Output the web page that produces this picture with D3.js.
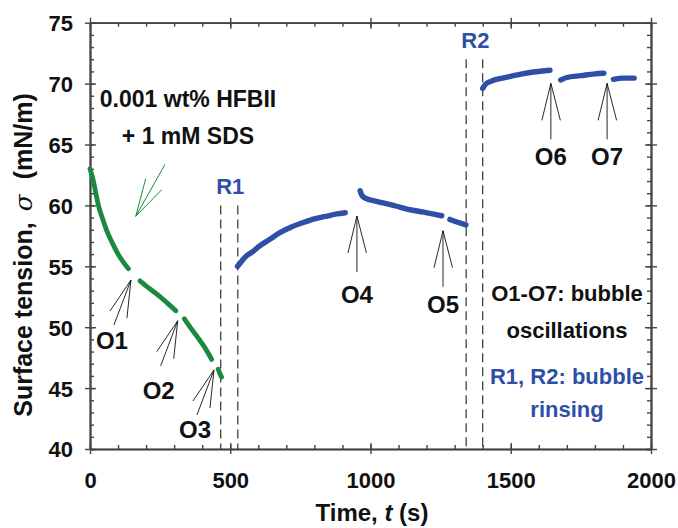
<!DOCTYPE html>
<html>
<head>
<meta charset="utf-8">
<script src="https://cdn.jsdelivr.net/npm/d3@7"></script>
<style>
  html, body { margin: 0; padding: 0; background: #fff; }
  svg { display: block; }
  text { font-family: "Liberation Sans", Arial, sans-serif; font-weight: bold; }
</style>
</head>
<body>
<svg id="chart" width="678" height="528"></svg>
<script>
// Surface tension σ (mN/m) vs time t (s), one array per recorded segment.
// HFBII + SDS adsorption (green), interrupted by bubble oscillations O1–O3.
const hfbSeg1 = [[0,63.0],[10,62.2],[20,61.1],[30,60.0],[45,58.9],[60,57.9],[80,56.9],[100,56.0],[120,55.3],[137,54.8]];
const hfbSeg2 = [[178,53.8],[210,53.2],[245,52.6],[275,52.0],[306,51.35]];
const hfbSeg3 = [[336,50.7],[360,49.9],[386,49.1],[410,48.3],[434,47.35]];
const hfbSeg4 = [[457,46.55],[463,46.2],[469,45.9]];

// After rinsing R1 and R2 (blue).
const rinseSeg1 = [[526,55.0],[540,55.4],[555,55.8],[580,56.2],[600,56.6],[640,57.2],[680,57.8],[720,58.25],[760,58.6],[800,58.9],[840,59.1],[880,59.3],[910,59.4]];
const rinseSeg2 = [[963,61.2],[970,60.8],[985,60.55],[1010,60.4],[1045,60.2],[1090,59.95],[1130,59.7],[1190,59.45],[1254,59.15]];
const rinseSeg3 = [[1283,58.85],[1300,58.7],[1320,58.55],[1340,58.4]];
const rinseSeg4 = [[1400,69.6],[1410,69.95],[1430,70.2],[1460,70.4],[1500,70.6],[1540,70.8],[1580,70.95],[1640,71.1]];
const rinseSeg5 = [[1678,70.3],[1700,70.5],[1750,70.65],[1800,70.8],[1832,70.85]];
const rinseSeg6 = [[1866,70.35],[1900,70.45],[1940,70.45]];

// Rinsing intervals (start, end) in s, with the σ where the dashed markers begin.
const rinseTimes = [[466, 527, 60.0, "R1"], [1341, 1400, 72.0, "R2"]];

// Oscillation events: label, t (s), σ at arrow tip.
const oscFans = [["O1",146,53.87],["O2",312.7,50.53],["O3",442,46.49]];
const oscArrows = [["O4",951.6,59.13],["O5",1258.5,57.92],["O6",1643,70.02],["O7",1843.5,70.02]];

const xTicks = [0, 500, 1000, 1500, 2000];
const yTicks = [40, 45, 50, 55, 60, 65, 70, 75];

const GREEN = "#1b8a3e";
const BLUE = "#2f4fa6";
const AXIS = "#444";

const svg = d3.select("#chart");
const x = d3.scaleLinear().domain([0, 2000]).range([90, 651]);
const y = d3.scaleLinear().domain([40, 75]).range([449, 22.7]);
const [x0, x1] = x.range();
const [y0, y1] = y.range();

// ---- axes (boxed frame, major ticks crossing, minor ticks inward) ----
function styleAxis(g) {
  g.selectAll(".domain").attr("stroke", AXIS).attr("stroke-width", 1.6);
  g.selectAll(".tick line").attr("stroke", AXIS).attr("stroke-width", 1.4);
}
const minorX = d3.range(0, 2001, 100);
const minorY = d3.range(40, 75.01, 1);

// bottom
svg.append("g").attr("transform", `translate(0,${y0})`)
  .call(d3.axisBottom(x).tickValues(minorX).tickSize(-4).tickSizeOuter(0).tickFormat(""))
  .call(styleAxis);
svg.append("g").attr("transform", `translate(0,${y0})`)
  .call(d3.axisBottom(x).tickValues(xTicks).tickSize(-6).tickSizeOuter(0).tickFormat(""))
  .call(styleAxis);
const bx = svg.append("g").attr("transform", `translate(0,${y0})`)
  .call(d3.axisBottom(x).tickValues(xTicks).tickSize(5).tickSizeOuter(0).tickPadding(18).tickFormat(d3.format("d")))
  .call(styleAxis);
bx.selectAll("text").attr("font-size", 22).attr("fill", "#111")
  .attr("font-family", '"Liberation Sans", Arial, sans-serif').attr("font-weight", "bold");

// top
svg.append("g").attr("transform", `translate(0,${y1})`)
  .call(d3.axisTop(x).tickValues(minorX).tickSize(-4).tickSizeOuter(0).tickFormat(""))
  .call(styleAxis);
svg.append("g").attr("transform", `translate(0,${y1})`)
  .call(d3.axisTop(x).tickValues(xTicks).tickSize(-6).tickSizeOuter(0).tickFormat(""))
  .call(styleAxis);
svg.append("g").attr("transform", `translate(0,${y1})`)
  .call(d3.axisTop(x).tickValues(xTicks).tickSize(5).tickSizeOuter(0).tickFormat(""))
  .call(styleAxis);

// left
svg.append("g").attr("transform", `translate(${x0},0)`)
  .call(d3.axisLeft(y).tickValues(minorY).tickSize(-4).tickSizeOuter(0).tickFormat(""))
  .call(styleAxis);
svg.append("g").attr("transform", `translate(${x0},0)`)
  .call(d3.axisLeft(y).tickValues(yTicks).tickSize(-6).tickSizeOuter(0).tickFormat(""))
  .call(styleAxis);
const ly = svg.append("g").attr("transform", `translate(${x0},0)`)
  .call(d3.axisLeft(y).tickValues(yTicks).tickSize(5).tickSizeOuter(0).tickPadding(12).tickFormat(d3.format("d")))
  .call(styleAxis);
ly.selectAll("text").attr("font-size", 22).attr("fill", "#111").attr("dy", "0.36em")
  .attr("font-family", '"Liberation Sans", Arial, sans-serif').attr("font-weight", "bold");

// right
svg.append("g").attr("transform", `translate(${x1},0)`)
  .call(d3.axisRight(y).tickValues(minorY).tickSize(-4).tickSizeOuter(0).tickFormat(""))
  .call(styleAxis);
svg.append("g").attr("transform", `translate(${x1},0)`)
  .call(d3.axisRight(y).tickValues(yTicks).tickSize(-6).tickSizeOuter(0).tickFormat(""))
  .call(styleAxis);
svg.append("g").attr("transform", `translate(${x1},0)`)
  .call(d3.axisRight(y).tickValues(yTicks).tickSize(6).tickSizeOuter(0).tickFormat(""))
  .call(styleAxis);

// axis titles
const xt = svg.append("text").attr("x", 372).attr("y", 521).attr("text-anchor", "middle")
  .attr("font-size", 24).attr("fill", "#111");
xt.append("tspan").text("Time, ");
xt.append("tspan").attr("font-style", "italic").text("t");
xt.append("tspan").text(" (s)");

const yt = svg.append("text").attr("transform", "translate(32,255) rotate(-90)")
  .attr("text-anchor", "middle").attr("font-size", 25).attr("fill", "#111");
yt.append("tspan").text("Surface tension, ");
yt.append("tspan").attr("dx", 4).attr("font-style", "italic").attr("font-weight", "normal")
  .attr("font-family", '"DejaVu Serif", serif').text("σ");
yt.append("tspan").attr("dx", 8).text(" (mN/m)");

// ---- rinsing markers ----
rinseTimes.forEach(([ta, tb, sTop, name]) => {
  [ta, tb].forEach(t => {
    svg.append("line").attr("x1", x(t)).attr("x2", x(t))
      .attr("y1", y(sTop)).attr("y2", y0)
      .attr("stroke", "#333").attr("stroke-width", 1.2).attr("stroke-dasharray", "9,5");
  });
  svg.append("text").attr("x", x((ta + tb) / 2) + 1).attr("y", y(sTop) - 11)
    .attr("text-anchor", "middle").attr("font-size", 22).attr("fill", BLUE).text(name);
});

// ---- data curves ----
const line = d3.line().x(d => x(d[0])).y(d => y(d[1])).curve(d3.curveMonotoneX);
[hfbSeg1, hfbSeg2, hfbSeg3, hfbSeg4].forEach(seg => {
  svg.append("path").attr("d", line(seg)).attr("fill", "none")
    .attr("stroke", GREEN).attr("stroke-width", 4.8).attr("stroke-linecap", "round");
});
[rinseSeg1, rinseSeg2, rinseSeg3, rinseSeg4, rinseSeg5, rinseSeg6].forEach(seg => {
  svg.append("path").attr("d", line(seg)).attr("fill", "none")
    .attr("stroke", BLUE).attr("stroke-width", 5.4).attr("stroke-linecap", "round");
});

// ---- oscillation annotations ----
const fanTails = [[-21, 31], [-17, 45], [-4, 38]];
oscFans.forEach(([name, t, s], i) => {
  const px = x(t), py = y(s);
  fanTails.forEach(([dx, dy]) => {
    svg.append("line").attr("x1", px).attr("y1", py).attr("x2", px + dx).attr("y2", py + dy)
      .attr("stroke", "#111").attr("stroke-width", 0.9);
  });
  const ldy = [69, 78, 68][i];
  svg.append("text").attr("x", px - 19).attr("y", py + ldy).attr("text-anchor", "middle")
    .attr("font-size", 24).attr("fill", "#111").text(name);
});
const arrowSides = [[-9, 37], [9.5, 37]];
oscArrows.forEach(([name, t, s], i) => {
  const px = x(t), py = y(s);
  arrowSides.forEach(([dx, dy]) => {
    svg.append("line").attr("x1", px).attr("y1", py).attr("x2", px + dx).attr("y2", py + dy)
      .attr("stroke", "#111").attr("stroke-width", 0.9);
  });
  svg.append("line").attr("x1", px).attr("y1", py).attr("x2", px).attr("y2", py + 56)
    .attr("stroke", "#111").attr("stroke-width", 0.9);
  const ldy = [87, 82, 81.7, 81.7][i];
  svg.append("text").attr("x", px).attr("y", py + ldy).attr("text-anchor", "middle")
    .attr("font-size", 24).attr("fill", "#111").text(name);
});

// ---- sample description with arrow pointing at the green curve ----
const tipT = 163, tipS = 59.1;
[[29.3, -52], [10, -37.7], [26, -26.7]].forEach(([dx, dy]) => {
  svg.append("line").attr("x1", x(tipT)).attr("y1", y(tipS))
    .attr("x2", x(tipT) + dx).attr("y2", y(tipS) + dy)
    .attr("stroke", GREEN).attr("stroke-width", 1);
});
svg.append("text").attr("x", 188).attr("y", 107).attr("text-anchor", "middle")
  .attr("font-size", 23).attr("fill", "#111").text("0.001 wt% HFBII");
svg.append("text").attr("x", 188).attr("y", 144).attr("text-anchor", "middle")
  .attr("font-size", 23).attr("fill", "#111").text("+ 1 mM SDS");

// ---- legend notes ----
const notes = [["O1-O7: bubble", 301, "#111"], ["oscillations", 338, "#111"],
               ["R1, R2: bubble", 384, BLUE], ["rinsing", 417, BLUE]];
notes.forEach(([txt, yy, col]) => {
  svg.append("text").attr("x", 567).attr("y", yy).attr("text-anchor", "middle")
    .attr("font-size", 22).attr("fill", col).text(txt);
});
</script>
</body>
</html>
